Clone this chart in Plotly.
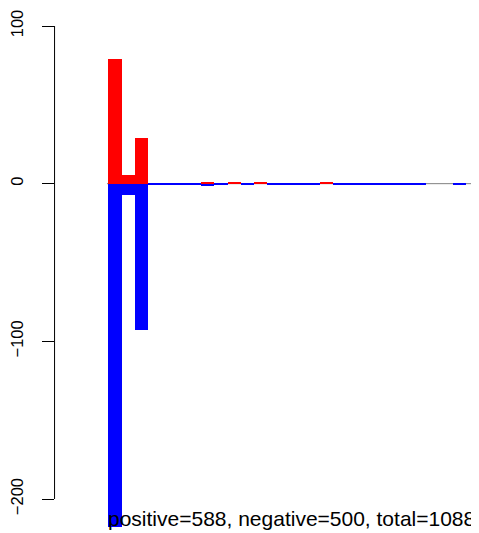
import plotly.graph_objects as go

# ---- data ----
categories = list(range(1, 29))
positive = [79, 5.5, 29, 0, 0, 0, 0, 0.6, 0, 0.6, 0, 0.6, 0, 0, 0, 0,
            0.6, 0, 0, 0, 0, 0, 0, 0, 0, 0, 0, 0]
negative = [-218, -7, -92.6, -0.6, -0.6, -0.6, -0.6, -1.3, -0.6, 0, -0.6, 0,
            -0.6, -0.6, -0.6, -0.6, 0, -0.6, -0.6, -0.6, -0.6, -0.6, -0.6,
            -0.6, 0, 0, -0.6, 0]
ytick_vals = [-200, -100, 0, 100]
ytick_text = ["\u2212200", "\u2212100", "0", "100"]
summary = "positive=588, negative=500, total=1088"

# the page body has an 8px margin, so the figure is drawn 8px in from the window corner
OFF = 8
W, H = 479 - OFF, 533 - OFF
px_per_bar = 13.38
axis_px = 50 - OFF
first_bar_px = 104 - OFF
x0 = categories[0] - 0.5 - (first_bar_px - axis_px) / px_per_bar
x1 = categories[0] - 0.5 + (W - first_bar_px) / px_per_bar

px_per_unit = 1.5767
zero_px = 183.67 - OFF
y_top = zero_px / px_per_unit
y_bot = -(H - zero_px) / px_per_unit

fig = go.Figure()
fig.add_trace(go.Bar(x=categories, y=negative, marker=dict(color="#0000FF", line=dict(width=0)),
                     width=1, showlegend=False))
fig.add_trace(go.Bar(x=categories, y=positive, marker=dict(color="#FF0000", line=dict(width=0)),
                     width=1, showlegend=False))

fig.add_shape(type="line", xref="x", yref="y", x0=categories[0] - 0.5 - 1 / px_per_bar,
              x1=categories[-1] + 5, y0=0, y1=0, line=dict(color="#808080", width=1), layer="below")
fig.add_shape(type="line", xref="paper", yref="y", x0=axis_px / W, x1=axis_px / W,
              y0=ytick_vals[0], y1=ytick_vals[-1], line=dict(color="black", width=1))

fig.add_annotation(text=summary, xref="x", yref="paper", x=categories[0] - 0.5 - 2 / px_per_bar,
                   y=1 - (518.5 - OFF) / H, xanchor="left", yanchor="middle", showarrow=False,
                   font=dict(size=21, color="black", family="Liberation Sans, Arial"))

fig.update_layout(
    width=W, height=H, margin=dict(l=0, r=0, t=0, b=0),
    paper_bgcolor="white", plot_bgcolor="white",
    barmode="overlay", bargap=0,
    font=dict(family="Liberation Sans, Arial", color="black"),
    xaxis=dict(domain=[axis_px / W, 1], range=[x0, x1], visible=False),
    yaxis=dict(domain=[0, 1], range=[y_bot, y_top], tickvals=ytick_vals, ticktext=ytick_text,
               ticks="outside", ticklen=12, tickwidth=1, tickcolor="black", tickangle=-90,
               showgrid=False, zeroline=False, showline=False, ticklabelstandoff=12,
               tickfont=dict(size=16.5, color="black")),
)
fig.write_html("out.html")
